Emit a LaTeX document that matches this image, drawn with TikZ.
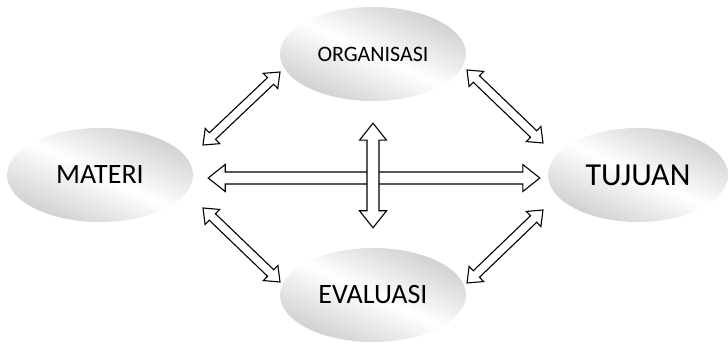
\documentclass[tikz,border=0pt]{standalone}
\usepackage{fontspec}
\setmainfont{Carlito}
\usetikzlibrary{shapes.geometric,calc}

\tikzset{
  topik/.style={ellipse, inner sep=0pt, minimum width=186pt, minimum height=94pt,
    left color=gray!38, right color=gray!38, middle color=white, shading angle=-25},
  blockarrow/.style={draw=black, fill=white, line width=1.1pt, line join=miter}
}

% double block arrow between two named points
% #1 shaft half width, #2 head half width, #3 head length
\newcommand{\dblarrow}[5]{%
  \path[blockarrow] let \p1=(#4), \p2=(#5),
    \n1={atan2(\y2-\y1,\x2-\x1)}, \n2={veclen(\x2-\x1,\y2-\y1)} in
    [shift={(\p1)}, rotate=\n1]
    (0pt,0pt) -- (#3pt,#2pt) -- (#3pt,#1pt) -- ({\n2-#3pt},#1pt) -- ({\n2-#3pt},#2pt)
    -- ({\n2+0pt},0pt) -- ({\n2-#3pt},-#2pt) -- ({\n2-#3pt},-#1pt) -- (#3pt,-#1pt)
    -- (#3pt,-#2pt) -- cycle;
}

\begin{document}
\begin{tikzpicture}[x=1pt, y=1pt]
  \useasboundingbox (0,0) rectangle (728,343);

  \node[topik] (org) at (373,289) {\fontsize{22}{26}\selectfont ORGANISASI};
  \node[topik] (mat) at (100,168) {\fontsize{28}{32}\selectfont MATERI};
  \node[topik, minimum width=180pt] (tuj) at (638,168) {\fontsize{32}{36}\selectfont TUJUAN};
  \node[topik] (eva) at (373,48) {\fontsize{28}{32}\selectfont EVALUASI};

  % ends of the arrows
  \coordinate (h1) at ($(mat.east)+(15,-3)$);
  \coordinate (h2) at ($(tuj.west)+(-8,-3)$);
  \coordinate (v1) at ($(org.south)+(0,-22)$);
  \coordinate (v2) at ($(eva.north)+(0,20)$);
  \coordinate (ul1) at (203,198);
  \coordinate (ul2) at (280,271);
  \coordinate (ur1) at (467,273);
  \coordinate (ur2) at (543,200);
  \coordinate (ll1) at (203,135);
  \coordinate (ll2) at (280,61);
  \coordinate (lr1) at (543,133);
  \coordinate (lr2) at (467,60);

  \dblarrow{6}{13.5}{17}{h1}{h2}
  \dblarrow{6}{13.5}{17}{v1}{v2}
  \dblarrow{4.5}{10.5}{13}{ul1}{ul2}
  \dblarrow{4.5}{10.5}{13}{ur1}{ur2}
  \dblarrow{4.5}{10.5}{13}{ll1}{ll2}
  \dblarrow{4.5}{10.5}{13}{lr1}{lr2}
\end{tikzpicture}
\end{document}
